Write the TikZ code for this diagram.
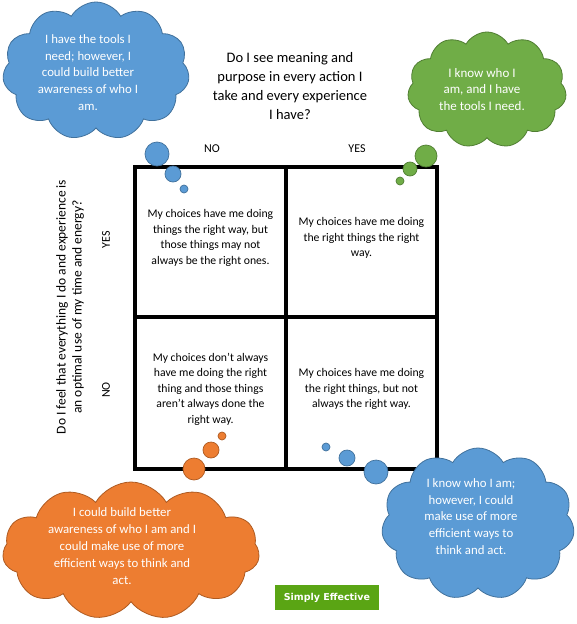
\documentclass[tikz,border=0pt]{standalone}
\usepackage{fontspec}
\setmainfont{Carlito}
\newfontfamily\boxfont{DejaVu Sans}
\usetikzlibrary{shapes.symbols}
\definecolor{cblue}{HTML}{5B9BD5}
\definecolor{cbluedk}{HTML}{41719C}
\definecolor{cgreen}{HTML}{70AD47}
\definecolor{cgreendk}{HTML}{507E32}
\definecolor{corange}{HTML}{ED7D31}
\definecolor{corangedk}{HTML}{AE5A21}
\definecolor{boxgreen}{RGB}{90,165,20}
\begin{document}
\begin{tikzpicture}[x=1pt,y=-1pt,
  thought/.style={cloud, cloud puffs=11, cloud puff arc=120, cloud ignores aspect, draw, line width=0.8pt, inner sep=0pt, outer sep=0pt},
  bluecloud/.style={thought, fill=cblue, draw=cbluedk},
  greencloud/.style={thought, fill=cgreen, draw=cgreendk},
  orangecloud/.style={thought, fill=corange, draw=corangedk},
  bubble/.style={circle, inner sep=0pt, outer sep=0pt, line width=0.7pt},
  bluebub/.style={bubble, fill=cblue, draw=cbluedk},
  greenbub/.style={bubble, fill=cgreen, draw=cgreendk},
  orangebub/.style={bubble, fill=corange, draw=corangedk},
  cell/.style={rectangle, draw=black, fill=white, line width=4.5pt, inner sep=0pt, outer sep=0pt, minimum width=151pt},
  celltext/.style={align=center, inner sep=0pt, font=\fontsize{11.7}{15.5}\selectfont},
  cloudtext/.style={align=center, inner sep=0pt, text=white, font=\fontsize{12.8}{16.8}\selectfont},
  axislabel/.style={align=center, inner sep=0pt, font=\fontsize{12}{14}\selectfont},
]
\useasboundingbox (0,0) rectangle (576,624);

% grid cells
\node[cell, minimum height=150pt] (q11) at (210.5,242) {};
\node[cell, minimum height=150pt] (q12) at (361.5,242) {};
\node[cell, minimum height=152pt] (q21) at (210.5,393) {};
\node[cell, minimum height=152pt] (q22) at (361.5,393) {};

\node[celltext] (t11) at (210.5,238) {My choices have me doing\\things the right way, but\\those things may not\\always be the right ones.};
\node[celltext] (t12) at (361.5,238) {My choices have me doing\\the right things the right\\way.};
\node[celltext] (t21) at (210.5,389) {My choices don’t always\\have me doing the right\\thing and those things\\aren’t always done the\\right way.};
\node[celltext] (t22) at (361.5,389) {My choices have me doing\\the right things, but not\\always the right way.};

% title and axis labels
\node[align=center, inner sep=0pt, font=\fontsize{14.5}{19}\selectfont] (title) at (290,86) {Do I see meaning and\\purpose in every action I\\take and every experience\\I have?};
\node[axislabel] (no1) at (212,149) {NO};
\node[axislabel] (yes1) at (357,149) {YES};
\node[align=center, inner sep=0pt, rotate=90, font=\fontsize{13.5}{16}\selectfont] (vq) at (70,307) {Do I feel that everything I do and experience is\\an optimal use of my time and energy?};
\node[axislabel, rotate=90] (yes2) at (106,240) {YES};
\node[axislabel, rotate=90] (no2) at (106,390) {NO};

% bubbles
\node[bluebub, minimum size=24pt] (b1a) at (157,154) {};
\node[bluebub, minimum size=16pt] (b1b) at (173,174) {};
\node[bluebub, minimum size=8pt] (b1c) at (184,189) {};
\node[greenbub, minimum size=22pt] (b2a) at (426,156) {};
\node[greenbub, minimum size=14pt] (b2b) at (410,169) {};
\node[greenbub, minimum size=8pt] (b2c) at (400,181) {};
\node[orangebub, minimum size=22pt] (b3a) at (194,469) {};
\node[orangebub, minimum size=16pt] (b3b) at (211,450) {};
\node[orangebub, minimum size=8pt] (b3c) at (222,436) {};
\node[bluebub, minimum size=24pt] (b4a) at (376,472) {};
\node[bluebub, minimum size=16pt] (b4b) at (347,458) {};
\node[bluebub, minimum size=8pt] (b4c) at (326,447) {};

% clouds
\node[bluecloud, minimum width=187pt, minimum height=138pt] (c1) at (96,71) {};
\node[cloudtext] (c1t) at (88,72.5) {I have the tools I\\need; however, I\\could build better\\awareness of who I\\am.};
\node[greencloud, minimum width=159pt, minimum height=116pt] (c2) at (487,90) {};
\node[cloudtext, font=\fontsize{13}{16.5}\selectfont] (c2t) at (482,89.5) {I know who I\\am, and I have\\the tools I need.};
\node[orangecloud, minimum width=257pt, minimum height=138pt] (c3) at (131,551) {};
\node[cloudtext, font=\fontsize{12.8}{17}\selectfont] (c3t) at (122,546.5) {I could build better\\awareness of who I am and I\\could make use of more\\efficient ways to think and\\act.};
\node[bluecloud, minimum width=193pt, minimum height=152pt] (c4) at (478,524) {};
\node[cloudtext] (c4t) at (471,516.5) {I know who I am;\\however, I could\\make use of more\\efficient ways to\\think and act.};

% label box
\node[rectangle, fill=boxgreen, minimum width=104pt, minimum height=25pt, inner sep=0pt, text=white, font=\boxfont\bfseries\fontsize{9.5}{11}\selectfont] (se) at (327,597.5) {Simply Effective};
\end{tikzpicture}
\end{document}
